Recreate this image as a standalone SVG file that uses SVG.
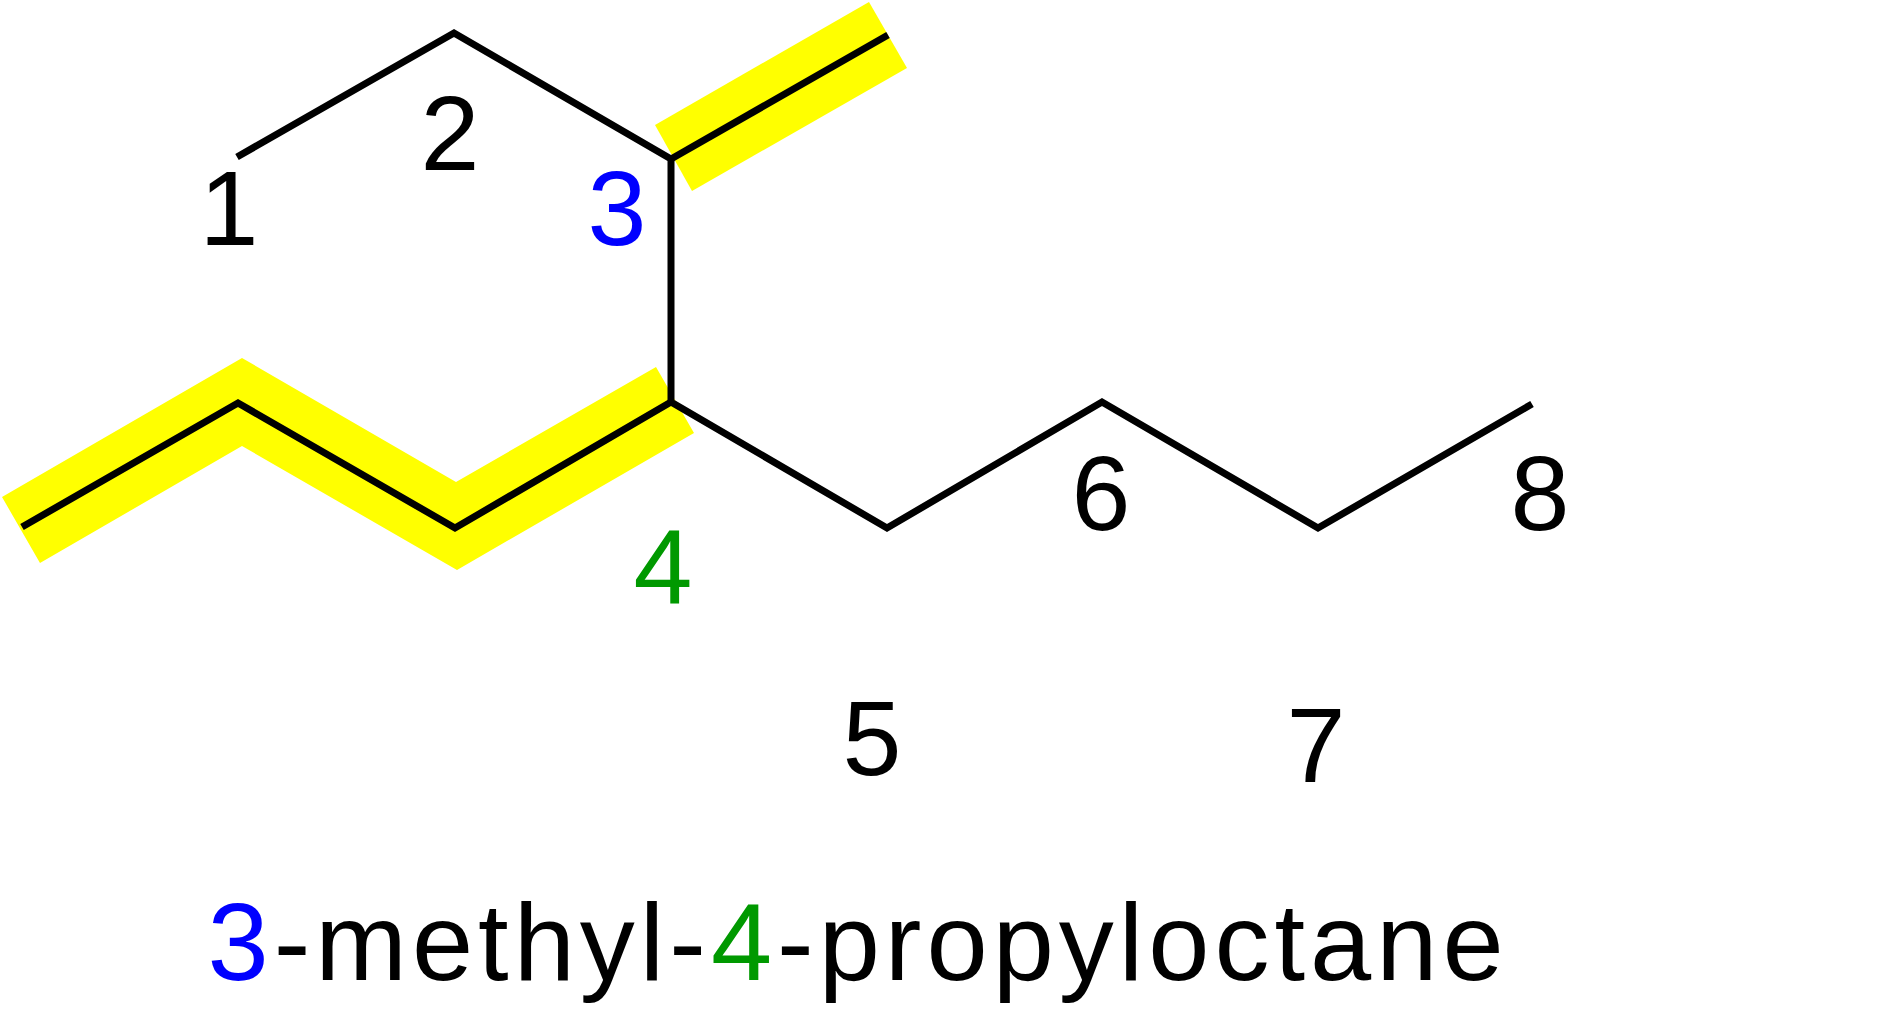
<svg xmlns="http://www.w3.org/2000/svg" width="1889" height="1022" viewBox="0 0 1889 1022">
<style>
.b{fill:none;stroke:#000;stroke-width:7;stroke-linejoin:miter}
.hl{fill:#ffff00}
text{font-family:"Liberation Sans",Arial,sans-serif;font-size:106px;fill:#000;text-anchor:middle}
.blue{fill:#0000ff}.green{fill:#009900}
</style>
<rect width="1889" height="1022" fill="#fff"/>
<g id="highlights">
<polygon class="hl" points="655,125 869,2 907,68 692,191"/>
<polygon class="hl" points="2,497 242,358 456,482 656,367 694,433 457,570 242,446 40,563"/>
</g>
<g id="connectors">
<polyline class="b" points="237,157 454,33 671,159 671,402 887,528 1102,402 1318,528 1532,404"/>
<line class="b" x1="671" y1="159" x2="888" y2="35"/>
<polyline class="b" points="671,402 455,528 238,403 22,527"/>
</g>
<g id="labels">
<text x="229" y="245">1</text>
<text x="450" y="170">2</text>
<text x="617" y="245" class="blue">3</text>
<text x="663" y="604" class="green">4</text>
<text x="872" y="775">5</text>
<text x="1101" y="530">6</text>
<text x="1316" y="782">7</text>
<text x="1540" y="530">8</text>
</g>
<g id="name">
<text x="858" y="980" style="font-size:110px;letter-spacing:5px"><tspan class="blue">3</tspan>-methyl-<tspan class="green">4</tspan>-propyloctane</text>
</g>
</svg>
